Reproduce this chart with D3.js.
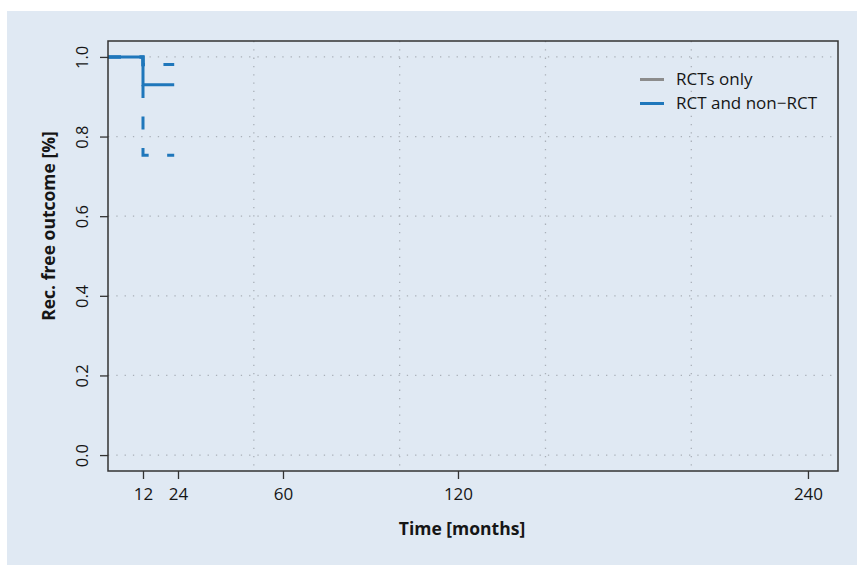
<!DOCTYPE html>
<html>
<head>
<meta charset="utf-8">
<script src="https://cdn.jsdelivr.net/npm/d3@7"></script>
<style>
  body { margin: 0; background: #fff; }
  text { font-family: "Open Sans", "Noto Sans", sans-serif; fill: #161616; }
</style>
</head>
<body>
<div id="chart"></div>
<script>
// survival curve (RCT and non-RCT), step function
var times = [0, 12, 22.7];
var survival = [1.0, 0.93, 0.93];
var upperCI = [1.0, 0.981, 0.981];
var lowerCI = [1.0, 0.753, 0.753];

var xTicks = [12, 24, 60, 120, 240];
var xGrid = [50, 100, 150, 200];
var yTicks = [0, 0.2, 0.4, 0.6, 0.8, 1.0];

var legendLabels = ["RCTs only", "RCT and non\u2212RCT"];
var legendColors = ["#8c8c8c", "#1f77bb"];

var width = 857, height = 565;
var margin = { top: 41, right: 19, bottom: 94, left: 108 };
var plotW = width - margin.left - margin.right,
  plotH = height - margin.top - margin.bottom;

var svg = d3.select("#chart").append("svg").attr("width", width).attr("height", height);

svg.append("rect")
  .attr("x", 7).attr("y", 11)
  .attr("width", width - 7).attr("height", height - 11)
  .attr("fill", "#e0e9f3");

var graph = svg.append("g").attr("transform", "translate(" + margin.left + "," + margin.top + ")");

var x = d3.scaleLinear().domain([0, 250.3]).range([0, plotW]);
var y = d3.scaleLinear().domain([-0.04, 1.04]).range([plotH, 0]);

// dotted grid
graph.selectAll("line.hgrid").data(yTicks).enter().append("line")
  .attr("class", "hgrid")
  .attr("x1", 0).attr("x2", plotW)
  .attr("y1", function (d) { return y(d); })
  .attr("y2", function (d) { return y(d); })
  .attr("stroke", "#a9b0b8").attr("stroke-width", 1.3)
  .attr("stroke-dasharray", "1.3,7");
graph.selectAll("line.vgrid").data(xGrid).enter().append("line")
  .attr("class", "vgrid")
  .attr("y1", 0).attr("y2", plotH)
  .attr("x1", function (d) { return x(d); })
  .attr("x2", function (d) { return x(d); })
  .attr("stroke", "#a9b0b8").attr("stroke-width", 1.3)
  .attr("stroke-dasharray", "1.3,7");

// curves
var pts = function (vals) {
  return times.map(function (t, i) { return [t, vals[i]]; });
};
var line = d3.line()
  .x(function (d) { return x(d[0]); })
  .y(function (d) { return y(d[1]); })
  .curve(d3.curveStepAfter);

[upperCI, lowerCI].forEach(function (ci) {
  graph.append("path")
    .attr("d", line(pts(ci)))
    .attr("fill", "none")
    .attr("stroke", legendColors[1])
    .attr("stroke-width", 3)
    .attr("stroke-dasharray", "13,18.5");
});
graph.append("path")
  .attr("d", line(pts(survival)))
  .attr("fill", "none")
  .attr("stroke", legendColors[1])
  .attr("stroke-width", 3);

// axes
var gX = graph.append("g").attr("transform", "translate(0," + plotH + ")")
  .call(d3.axisBottom(x).tickValues(xTicks).tickSize(8).tickPadding(9).tickFormat(d3.format("d")));
var gY = graph.append("g")
  .call(d3.axisLeft(y).tickValues(yTicks).tickSize(8).tickFormat(d3.format(".1f")));
gX.select(".domain").remove();
gY.select(".domain").remove();
gX.selectAll("line").attr("stroke", "#333").attr("stroke-width", 1.3);
gY.selectAll("line").attr("stroke", "#333").attr("stroke-width", 1.3);
gX.selectAll("text").style("font-size", "17px").attr("fill", "#161616");
gY.selectAll("text")
  .style("font-size", "16.5px").attr("fill", "#161616")
  .attr("text-anchor", "middle")
  .attr("dy", 0)
  .attr("x", 0)
  .attr("transform", "translate(-20,0) rotate(-90)");

graph.append("rect")
  .attr("width", plotW).attr("height", plotH)
  .attr("fill", "none").attr("stroke", "#333").attr("stroke-width", 1.5);

// axis titles
svg.append("text")
  .text("Time [months]")
  .attr("x", 462).attr("y", 535)
  .attr("text-anchor", "middle")
  .style("font-size", "17.5px").style("font-weight", "bold");
svg.append("text")
  .text("Rec. free outcome [%]")
  .attr("transform", "translate(55,226) rotate(-90)")
  .attr("text-anchor", "middle")
  .style("font-size", "17.5px").style("font-weight", "bold");

// legend
var legend = svg.selectAll("g.legend").data(legendLabels).enter().append("g")
  .attr("class", "legend")
  .attr("transform", function (d, i) { return "translate(640," + (79.5 + i * 24) + ")"; });
legend.append("line")
  .attr("x1", 0).attr("x2", 24)
  .attr("stroke", function (d, i) { return legendColors[i]; })
  .attr("stroke-width", 3);
legend.append("text")
  .text(function (d) { return d; })
  .attr("x", 36).attr("y", 5.5)
  .style("font-size", "17px");
</script>
</body>
</html>
